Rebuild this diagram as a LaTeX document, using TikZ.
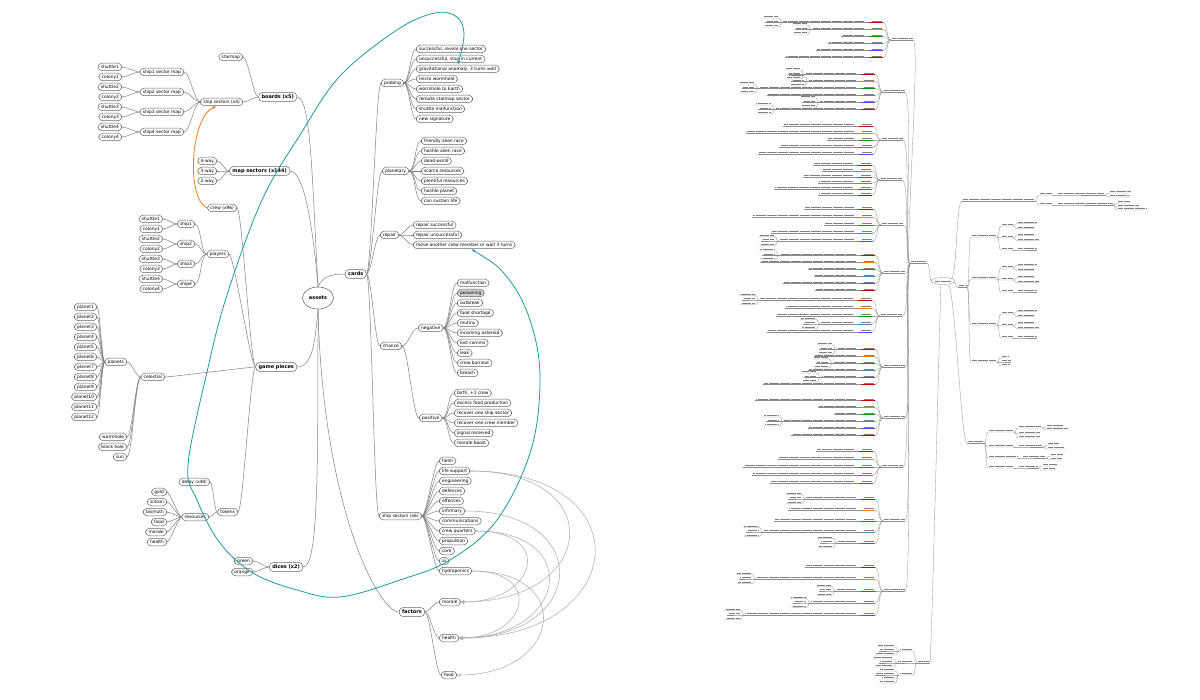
\documentclass[tikz,border=0pt]{standalone}
\usepackage{fontspec}
\setmainfont{DejaVu Sans}
\usetikzlibrary{shapes.geometric,arrows.meta}

\definecolor{edgegray}{HTML}{808080}
\definecolor{linkgray}{HTML}{B0B0B0}
\definecolor{tealline}{HTML}{1E9A9E}
\definecolor{orangeline}{HTML}{F07E1E}

\tikzset{
  leaf/.style={draw=black!60, line width=0.5pt, rounded corners=3.8pt, fill=white,
    font=\fontsize{4.4}{5}\selectfont, inner xsep=2.8pt, inner ysep=1.6pt,
    text height=3.3pt, text depth=1pt},
  leafgray/.style={leaf, fill=black!18},
  hub/.style={leaf, font=\fontsize{5}{6}\selectfont\bfseries, inner ysep=2pt,
    text height=3.8pt, text depth=1.2pt},
  rootnode/.style={ellipse, draw=black!60, line width=0.55pt, fill=white,
    font=\fontsize{5}{6}\selectfont\bfseries, minimum width=31pt, minimum height=22pt, inner sep=0pt},
  edge/.style={draw=edgegray, line width=0.5pt},
  dep/.style={draw=linkgray, line width=0.55pt, -{Triangle[open, length=3.5pt, width=3.5pt]}},
  tealconn/.style={draw=tealline, line width=0.8pt},
  orangeconn/.style={draw=orangeline, line width=0.8pt, -{Latex[length=4pt, width=3pt]}},
  mini/.style={draw=black!45, line width=0.3pt},
  txt/.style={draw=black!50, line width=0.7pt, dash pattern=on 0.6pt off 0.5pt},
}

% tiny unreadable mind map on the right
\newcommand{\minitext}[3]{\draw[txt] (#1+1,#3-1.5) -- (#2-1,#3-1.5); \draw[mini] (#1,#3) -- (#2,#3);}
\newcommand{\rightfan}[3]{\foreach \dy/\ll in {#3} {
  \draw[mini] (#1,#2) .. controls +(3,0) and +(-3,0) .. (#1+4,{#2+(\dy)}) -- (#1+4+\ll,{#2+(\dy)});
  \draw[txt] (#1+5,{#2+(\dy)-1.5}) -- (#1+3+\ll,{#2+(\dy)-1.5});}}
\newcommand{\leftfan}[3]{\foreach \dy/\ll in {#3} {
  \draw[mini] (#1,#2) .. controls +(-3,0) and +(3,0) .. (#1-4,{#2+(\dy)}) -- (#1-4-\ll,{#2+(\dy)});
  \draw[txt] (#1-5,{#2+(\dy)-1.5}) -- (#1-3-\ll,{#2+(\dy)-1.5});}}
\newcommand{\lefthub}[4]{%
  \minitext{#2-22}{#2}{#1}
  \draw[mini] (910,264) .. controls (904,264) and (#2+8,#1) .. (#2,#1);
  \foreach \i in {1,...,#3}{
    \pgfmathsetmacro\cy{#1+(\i-(#3+1)/2)*#4}
    \pgfmathsetmacro\llen{20+95*rnd}
    \pgfmathsetmacro\subr{rnd}
    \pgfmathtruncatemacro\ci{mod(\i-1,5)}
    \ifcase\ci \def\hubcol{red!80!black}\or \def\hubcol{orange}\or \def\hubcol{green!60!black}\or \def\hubcol{cyan!70!black}\or \def\hubcol{blue!70}\fi
    \draw[mini] (#2-22,#1) .. controls +(-5,0) and +(5,0) .. (#2-30,\cy);
    \draw[txt] (#2-31,\cy-1.5) -- (#2-41,\cy-1.5);
    \draw[draw=\hubcol, line width=0.4pt] (#2-30,\cy) -- (#2-44,\cy);
    \draw[mini] (#2-44,\cy) -- (#2-48-\llen,\cy);
    \draw[txt] (#2-49,\cy-1.5) -- (#2-47-\llen,\cy-1.5);
    \ifdim\subr pt>0.62pt
      \leftfan{#2-48-\llen}{\cy}{-4.5/16, 0/13, 4.5/15}
    \fi
  }}

\begin{document}
\begin{tikzpicture}[x=1pt, y=-1pt]
  \fill[white] (0,0) rectangle (1200,700);
  \useasboundingbox (0,0) rectangle (1200,700);
  \pgfmathsetseed{11}

  % root
  \node[rootnode] (assets) at (318,298) {assets};

  % boards
  \node[hub, anchor=east] (boards) at (297,97) {boards (x5)};
  \node[leaf, anchor=east] (starmap) at (243,57) {starmap};
  \node[leaf, anchor=east] (shipsecs) at (243,102) {ship sectors (x4)};
  \foreach \i in {1,...,4} {
    \node[leaf, anchor=east] (map\i) at (184,52+20*\i) {ship\i\ sector map};
    \node[leaf, anchor=east] (sh\i) at (122,47+20*\i) {shuttle\i};
    \node[leaf, anchor=east] (col\i) at (122,57+20*\i) {colony\i};
  }

  % map sectors
  \node[hub, anchor=east] (mapsecs) at (290,171) {map sectors (x144)};
  \foreach \w/\y in {4/161,3/171,2/181}
    \node[leaf, anchor=east] (way\w) at (217,\y) {\w-way};

  % game pieces
  \node[hub, anchor=east] (gpieces) at (297,367) {game pieces};
  \node[leaf, anchor=east] (crew) at (237,208) {crew (x96)};
  \node[leaf, anchor=east] (players) at (229,254) {players};
  \foreach \i in {1,...,4} {
    \node[leaf, anchor=east] (pship\i) at (195,204+20*\i) {ship\i};
    \node[leaf, anchor=east] (psh\i) at (163,199+20*\i) {shuttle\i};
    \node[leaf, anchor=east] (pcol\i) at (163,209+20*\i) {colony\i};
  }
  \node[leaf, anchor=east] (celestial) at (165,377) {celestial};
  \node[leaf, anchor=east] (planets) at (127,362) {planets};
  \foreach \i in {1,...,12}
    \node[leaf, anchor=east] (pl\i) at (97,297+10*\i) {planet\i};
  \node[leaf, anchor=east] (wormhole) at (127,437) {wormhole};
  \node[leaf, anchor=east] (blackhole) at (127,447) {black hole};
  \node[leaf, anchor=east] (sun) at (127,457) {sun};
  \node[leaf, anchor=east] (tokens) at (238,512) {tokens};
  \node[leaf, anchor=east] (delay) at (210,482) {delay (x48)};
  \node[leaf, anchor=east] (resources) at (209,517) {resources};
  \foreach \r/\t/\y in {gold/gold/492, silicon/silicon/502, bismuth/bismuth/512, rfood/food/522, rmorale/morale/532, rhealth/health/542}
    \node[leaf, anchor=east] (\r) at (167,\y) {\t};

  % dices
  \node[hub, anchor=east] (dices) at (303,567) {dices (x2)};
  \node[leaf, anchor=east] (green) at (253,561) {green};
  \node[leaf, anchor=east] (orange) at (253,572) {orange};

  % cards
  \node[hub, anchor=west] (cards) at (345,274) {cards};
  \node[leaf, anchor=west] (probing) at (381,83) {probing};
  \foreach \i/\t in {1/{successful, reveal one sector}, 2/{unsuccessful, stay in current}, 3/{gravitational anomaly, 3 turns wait}, 4/micro wormhole, 5/wormhole to Earth, 6/reroute starmap sector, 7/shuttle malfunction, 8/new signature}
    \node[leaf, anchor=west] (prb\i) at (416,39+10*\i) {\t};
  \node[leaf, anchor=west] (planetary) at (382,171) {planetary};
  \foreach \i/\t in {1/friendly alien race, 2/hostile alien race, 3/dead world, 4/scarce resources, 5/plentiful resources, 6/hostile planet, 7/can sustain life}
    \node[leaf, anchor=west] (pln\i) at (421,131+10*\i) {\t};
  \node[leaf, anchor=west] (repair) at (380,235) {repair};
  \foreach \i/\t in {1/repair successful, 2/repair unsuccessful, 3/move another crew member or wait 3 turns}
    \node[leaf, anchor=west] (rep\i) at (413,215+10*\i) {\t};
  \node[leaf, anchor=west] (chance) at (380,346) {chance};
  \node[leaf, anchor=west] (negative) at (418,328) {negative};
  \foreach \i/\t/\s in {1/malfunction/leaf, 2/poisoning/leafgray, 3/outbreak/leaf, 4/food shortage/leaf, 5/mutiny/leaf, 6/incoming asteroid/leaf, 7/lost comms/leaf, 8/leak/leaf, 9/crew burnout/leaf, 10/breach/leaf}
    \node[\s, anchor=west] (neg\i) at (457,273+10*\i) {\t};
  \node[leaf, anchor=west] (positive) at (419,418) {positive};
  \foreach \i/\t in {1/{birth, +1 crew}, 2/excess food production, 3/recover one ship sector, 4/recover one crew member, 5/signal received, 6/morale boost}
    \node[leaf, anchor=west] (pos\i) at (454,383+10*\i) {\t};
  \node[leaf, anchor=west] (shipsix) at (379,516) {ship sectors (x6)};
  \foreach \i/\t in {1/helm, 2/life support, 3/engineering, 4/defences, 5/offences, 6/infirmary, 7/communications, 8/crew quarters, 9/propulsion, 10/core, 11/ai, 12/hydroponics}
    \node[leaf, anchor=west] (sec\i) at (439,451+10*\i) {\t};

  % factors
  \node[hub, anchor=west] (factors) at (399,612) {factors};
  \node[leaf, anchor=west] (morale) at (439,602) {morale};
  \node[leaf, anchor=west] (health) at (439,638) {health};
  \node[leaf, anchor=west] (food) at (441,675) {food};

  % edges from the root
  \draw[edge] (assets.north) .. controls +(-6,-110) and +(14,0) .. (boards.east);
  \draw[edge] (assets.north) .. controls +(-5,-60) and +(14,0) .. (mapsecs.east);
  \draw[edge] (assets.south) .. controls +(-3,35) and +(15,0) .. (gpieces.east);
  \draw[edge] (assets.south) .. controls +(0,170) and +(15,0) .. (dices.east);
  \draw[edge] (assets.north) .. controls +(5,-12) and +(-10,0) .. (cards.west);
  \draw[edge] (assets.south) .. controls +(5,200) and +(-20,0) .. (factors.west);

  % edges on the left
  \foreach \c in {starmap,shipsecs} \draw[edge] (boards.west) .. controls +(-5,0) and +(5,0) .. (\c.east);
  \foreach \i in {1,...,4} {
    \draw[edge] (shipsecs.west) .. controls +(-6,0) and +(6,0) .. (map\i.east);
    \foreach \c in {sh\i,col\i} \draw[edge] (map\i.west) .. controls +(-5,0) and +(5,0) .. (\c.east);
  }
  \foreach \c in {way4,way3,way2} \draw[edge] (mapsecs.west) .. controls +(-5,0) and +(5,0) .. (\c.east);
  \foreach \c in {crew,players,celestial,tokens} \draw[edge] (gpieces.west) .. controls +(-5,0) and +(5,0) .. (\c.east);
  \foreach \i in {1,...,4} {
    \draw[edge] (players.west) .. controls +(-6,0) and +(6,0) .. (pship\i.east);
    \foreach \c in {psh\i,pcol\i} \draw[edge] (pship\i.west) .. controls +(-5,0) and +(5,0) .. (\c.east);
  }
  \foreach \c in {planets,wormhole,blackhole,sun} \draw[edge] (celestial.west) .. controls +(-5,0) and +(5,0) .. (\c.east);
  \foreach \i in {1,...,12} \draw[edge] (planets.west) .. controls +(-3,0) and +(3,0) .. (pl\i.east);
  \foreach \c in {delay,resources} \draw[edge] (tokens.west) .. controls +(-3,0) and +(3,0) .. (\c.east);
  \foreach \c in {gold,silicon,bismuth,rfood,rmorale,rhealth} \draw[edge] (resources.west) .. controls +(-3,0) and +(3,0) .. (\c.east);
  \foreach \c in {green,orange} \draw[edge] (dices.west) .. controls +(-5,0) and +(5,0) .. (\c.east);

  % edges on the right
  \foreach \c in {probing,planetary,repair,chance,shipsix} \draw[edge] (cards.east) .. controls +(5,0) and +(-5,0) .. (\c.west);
  \foreach \i in {1,...,8} \draw[edge] (probing.east) .. controls +(5,0) and +(-5,0) .. (prb\i.west);
  \foreach \i in {1,...,7} \draw[edge] (planetary.east) .. controls +(6,0) and +(-6,0) .. (pln\i.west);
  \foreach \i in {1,...,3} \draw[edge] (repair.east) .. controls +(5,0) and +(-5,0) .. (rep\i.west);
  \foreach \c in {negative,positive} \draw[edge] (chance.east) .. controls +(6,0) and +(-6,0) .. (\c.west);
  \foreach \i in {1,...,10} \draw[edge] (negative.east) .. controls +(6,0) and +(-6,0) .. (neg\i.west);
  \foreach \i in {1,...,6} \draw[edge] (positive.east) .. controls +(6,0) and +(-6,0) .. (pos\i.west);
  \foreach \i in {1,...,12} \draw[edge] (shipsix.east) .. controls +(5,0) and +(-5,0) .. (sec\i.west);
  \foreach \c in {morale,health,food} \draw[edge] (factors.east) .. controls +(5,0) and +(-5,0) .. (\c.west);

  % ship sectors feeding the factors
  \draw[dep] (sec8.east) .. controls +(80,0) and +(76,0) .. (morale.east);
  \draw[dep] (sec2.east) .. controls +(140,0) and +(137,0) .. (morale.east);
  \draw[dep] (sec8.east) .. controls +(110,0) and +(107,0) .. (health.east);
  \draw[dep] (sec6.east) .. controls +(130,0) and +(129,0) .. (health.east);
  \draw[dep] (sec2.east) .. controls +(175,0) and +(172,0) .. (health.east);
  \draw[dep] (sec12.east) .. controls +(72,0) and +(69,0) .. (health.east);
  \draw[dep] (sec12.east) .. controls +(105,0) and +(104,0) .. (food.east);

  % coloured connectors
  \draw[orangeconn] (crew.west) .. controls (186,200) and (190,118) .. ([xshift=-5pt]shipsecs.south);
  \draw[tealconn, {Latex[length=4pt, width=3pt]}-{Latex[length=4pt, width=3pt]}]
    plot[smooth, tension=0.6] coordinates {([xshift=7pt]rep3.south) (507,277) (530,320) (540,377)
      (531,450) (497,520) (450,560) (400,580) (340,597) (297,590) (253,573) (220,543) (197,500)
      (188,465) (207,372) (227,295) (262,200) (300,135) (340,76) (397,30) (435,13) (457,17)
      (464,35) (prb3.north)};

  % second map, too small to read
  \draw[mini, fill=white] (943,281) ellipse [x radius=12, y radius=3.5];
  \draw[txt] (935,281.2) -- (951,281.2);
  \draw[mini] (932,281) .. controls (929,281) and (930,263) .. (927,263);
  \minitext{910}{927}{263}
  \lefthub{40}{913}{6}{7}
  \lefthub{92}{905}{6}{7}
  \lefthub{140}{903}{5}{7}
  \lefthub{180}{902}{6}{6}
  \lefthub{225}{903}{5}{8}
  \lefthub{273}{905}{6}{7}
  \lefthub{316}{902}{5}{8}
  \lefthub{367}{905}{6}{7}
  \lefthub{418}{905}{6}{7}
  \lefthub{467}{903}{5}{8}
  \lefthub{521}{905}{5}{11}
  \lefthub{591}{905}{5}{12}

  % upper right branch
  \draw[mini] (951,279) .. controls (957,279) and (956,201) .. (962,201);
  \minitext{962}{1035}{201}
  \rightfan{1035}{201}{-6/14, 4/14}
  \rightfan{1053}{195}{0/48}
  \rightfan{1105}{195}{-2/22, 2/20}
  \rightfan{1053}{205}{0/56}
  \rightfan{1113}{205}{-2/14, 2/22, 5/30}

  % middle right branch
  \draw[mini] (954,283) .. controls (957,283) and (955,287) .. (958,287);
  \minitext{958}{967}{287}
  \rightfan{967}{287}{-50/26, -8/26, 38/26, 75/26}
  \foreach \by in {237,279,325} {
    \rightfan{997}{\by}{-11/12, 1/12, 13/12}
    \rightfan{1013}{\by-11}{-2.5/20, 2.5/18}
    \rightfan{1013}{\by+1}{-2.5/18, 2.5/22}
    \rightfan{1013}{\by+13}{0/20}
  }
  \rightfan{997}{362}{-4/8, 0/10, 4/9}

  % lower right branch
  \draw[mini] (948,285) .. controls (955,285) and (961,443) .. (967,443);
  \minitext{967}{984}{443}
  \rightfan{984}{443}{-11/26, 4/26, 15/30, 25/26}
  \rightfan{1014}{432}{-4/24, 2/22, 6/22}
  \rightfan{1042}{428}{-1/18, 2/22}
  \rightfan{1014}{447}{0/25}
  \rightfan{1043}{447}{-2/12, 2/18}
  \rightfan{1018}{458}{0/24}
  \rightfan{1046}{458}{-2/14, 2/12}
  \rightfan{1014}{468}{0/20}
  \rightfan{1038}{468}{-2/16, 2/14}

  % bottom branch
  \draw[mini] (941,285) .. controls (940,300) and (932,640) .. (930,663);
  \minitext{917}{930}{663}
  \leftfan{917}{663}{-12/14, 0/16, 12/14}
  \leftfan{899}{651}{-4/18, 0/16, 4/20}
  \leftfan{897}{663}{-4/20, 0/14, 4/18}
  \leftfan{899}{675}{-4/16, 0/20, 4/14, 8/16}
\end{tikzpicture}
\end{document}
